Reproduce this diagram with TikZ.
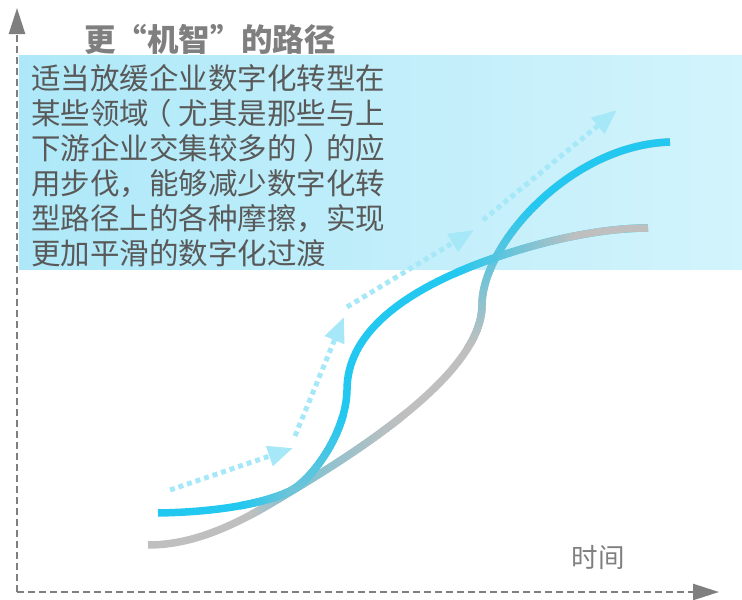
\documentclass[tikz,border=0pt]{standalone}
\usepackage{fontspec}
\setmainfont{Noto Sans CJK SC}
\usetikzlibrary{arrows.meta}
\definecolor{cblue}{RGB}{34,200,240}
\definecolor{cgray}{RGB}{191,191,191}
\definecolor{cdot}{RGB}{166,232,248}
\definecolor{caxis}{RGB}{127,127,127}
\definecolor{ctext}{RGB}{89,89,89}
\definecolor{ctitle}{RGB}{127,127,127}
\definecolor{boxL}{RGB}{174,232,248}
\definecolor{boxR}{RGB}{210,244,252}
\newcommand\bodyfont{\fontsize{29.5}{35}\selectfont}
\newcommand\titlefont{\fontsize{31.5}{36}\selectfont\bfseries}
\newcommand\labelfont{\fontsize{26.5}{30}\selectfont}
\tikzset{
  curve/.style={line width=7.5pt, line join=round},
  dotarrow/.style={draw=cdot, line width=5pt, dash pattern=on 5pt off 4pt,
    -{Triangle[length=25pt,width=20pt]}},
  axisline/.style={draw=caxis, line width=2.5pt, dash pattern=on 7pt off 4pt,
    -{Triangle[length=26pt,width=16pt]}},
  bodytext/.style={anchor=base west, font=\bodyfont, text=ctext, inner sep=0pt},
}
\newcommand\curveA[1]{\draw[curve,#1] (148,545) .. controls (205,545) and (255,513) .. (290,492)
   .. controls (370,444) and (482,370) .. (482,305)
   .. controls (482,245) and (570,145) .. (670,142);}
\newcommand\curveB[1]{\draw[curve,#1] (158,513) .. controls (220,512) and (265,503) .. (290,491)
   .. controls (310,481.4) and (346,435) .. (347,390)
   .. controls (347,335) and (400,295) .. (470,267)
   .. controls (520,247) and (590,228) .. (648,228);}
\begin{document}
\begin{tikzpicture}[x=1pt,y=-1pt]
\useasboundingbox (0,0) rectangle (742,600);
% background box
\shade[left color=boxL, right color=boxR] (19,55) rectangle (742,269);
% axes
\coordinate (o) at (17,592);
\coordinate (ytip) at (17,8);
\coordinate (xtip) at (719,592);
\draw[axisline] (o) -- (ytip);
\draw[axisline] (o) -- (xtip);
% path A (gray -> blue)
\curveA{draw=cgray}
\foreach \x in {250,253,...,400} {
  \pgfmathsetmacro\t{\x<290 ? (\x-250)/40 : (400-\x)/110}
  \pgfmathtruncatemacro\p{45*max(0,min(1,\t))}
  \begin{scope}\clip (\x,380) rectangle (\x+3.5,560); \curveA{draw=cblue!\p!cgray}\end{scope}
}
\foreach \y in {205,208,...,345} {
  \pgfmathtruncatemacro\p{100*max(0,min(1,(345-\y)/140))}
  \begin{scope}\clip (455,\y) rectangle (620,\y+3.5); \curveA{draw=cblue!\p!cgray}\end{scope}
}
\begin{scope}\clip (455,0) rectangle (742,206); \curveA{draw=cblue}\end{scope}
% path B (blue -> gray)
\curveB{draw=cblue}
\foreach \x in {240,243,...,288} {
  \pgfmathtruncatemacro\p{max(0,min(50,\x-240))}
  \begin{scope}\clip (\x,470) rectangle (\x+3.5,530); \curveB{draw=cgray!\p!cblue}\end{scope}
}
\foreach \y in {415,418,...,496} {
  \pgfmathtruncatemacro\p{50*max(0,min(1,(\y-415)/76))}
  \begin{scope}\clip (291,\y) rectangle (370,\y+3.5); \curveB{draw=cgray!\p!cblue}\end{scope}
}
\foreach \x in {455,458,...,575} {
  \pgfmathtruncatemacro\p{100*max(0,min(1,(\x-455)/120))}
  \begin{scope}\clip (\x,190) rectangle (\x+3.5,310); \curveB{draw=cgray!\p!cblue}\end{scope}
}
\begin{scope}\clip (577,0) rectangle (742,300); \curveB{draw=cgray}\end{scope}
% dotted arrows
\coordinate (d1s) at (170,490); \coordinate (d1e) at (293,448);
\coordinate (d2s) at (295,436); \coordinate (d2e) at (344,317);
\coordinate (d3s) at (347,307); \coordinate (d3e) at (474,230);
\coordinate (d4s) at (483,220); \coordinate (d4e) at (617,110);
\draw[dotarrow] (d1s) -- (d1e);
\draw[dotarrow] (d2s) -- (d2e);
\draw[dotarrow] (d3s) -- (d3e);
\draw[dotarrow] (d4s) -- (d4e);
% texts
\node[anchor=base, font=\titlefont, text=ctitle, inner sep=0pt] (title) at (210,51.5) {更“机智”的路径};
\node[bodytext] (t1) at (31,89) {适当放缓企业数字化转型在};
\node[bodytext] (t2) at (31,124) {某些领域\kern-0.22em（\kern0.22em尤其是那些与上};
\node[bodytext] (t3) at (31,159) {下游企业交集较多的\kern0.22em）\kern-0.22em的应};
\node[bodytext] (t4) at (31,194) {用步伐，能够减少数字化转};
\node[bodytext] (t5) at (31,229) {型路径上的各种摩擦，实现};
\node[bodytext] (t6) at (31,264) {更加平滑的数字化过渡};
\node[anchor=base, font=\labelfont, text=caxis, inner sep=0pt] (tlabel) at (598,567) {时间};
\end{tikzpicture}
\end{document}
